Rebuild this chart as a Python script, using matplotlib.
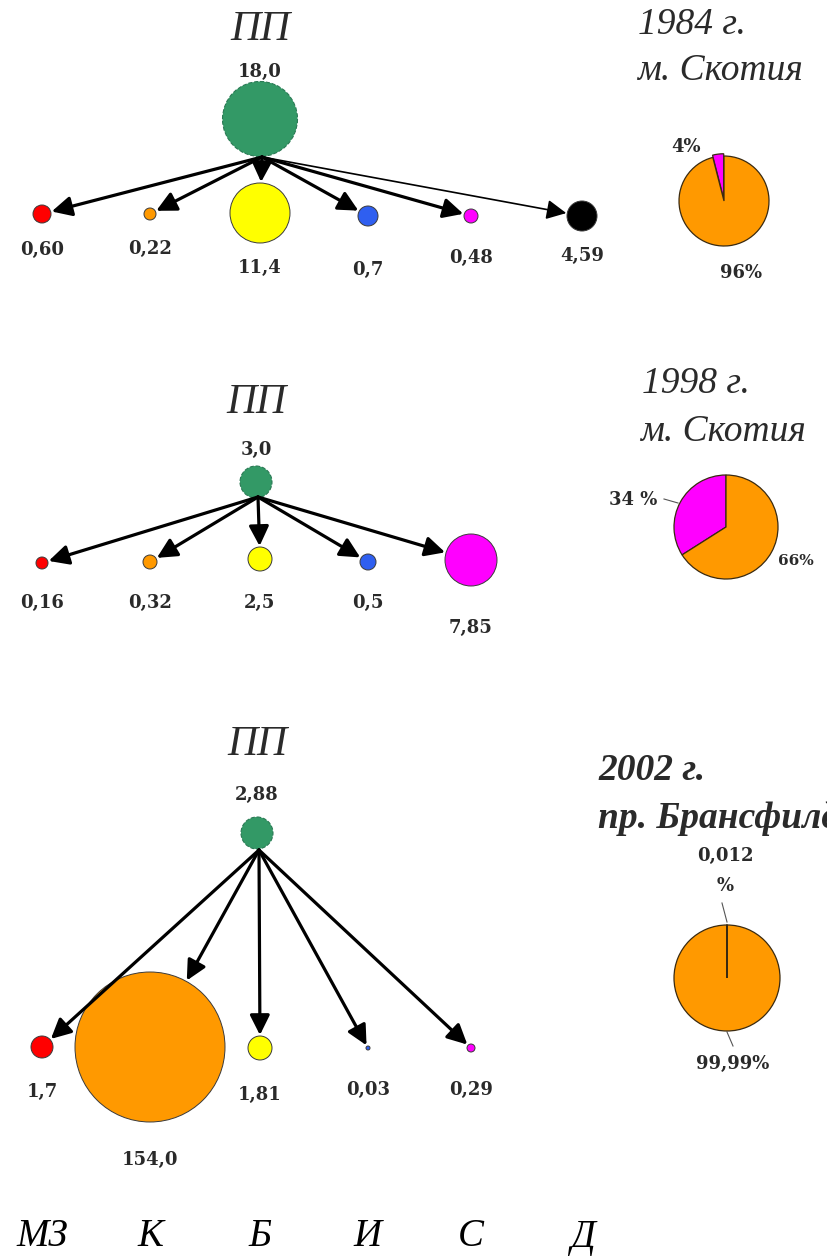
import matplotlib
matplotlib.use("Agg")
import matplotlib.pyplot as plt
from matplotlib.patches import Circle, Ellipse
import numpy as np

# ---------------- data ----------------
categories = ['МЗ', 'К', 'Б', 'И', 'С', 'Д']
hub_label = 'ПП'

pp_1984 = 18.0
values_1984 = [0.60, 0.22, 11.4, 0.7, 0.48, 4.59]
decimals_1984 = [2, 2, 1, 1, 2, 2]

pp_1998 = 3.0
values_1998 = [0.16, 0.32, 2.5, 0.5, 7.85]
decimals_1998 = [2, 2, 1, 1, 2]

pp_2002 = 2.88
values_2002 = [1.7, 154.0, 1.81, 0.03, 0.29]
decimals_2002 = [1, 1, 2, 2, 2]

pie_1984 = [4, 96]
pie_labels_1984 = ['4%', '96%']
pie_1998 = [34, 66]
pie_labels_1998 = ['34 %', '66%']
pie_2002 = [0.012, 99.988]
pie_labels_2002 = ['0,012\n%', '99,99%']

region_1984 = ['1984 г.', 'м. Скотия']
region_1998 = ['1998 г.', 'м. Скотия']
region_2002 = ['2002 г.', 'пр. Брансфилд']

# ---------------- styles / layout ----------------
W, H = 828, 1256
cat_colors = ['#ff0000', '#ff9900', '#ffff00', '#2f5ff0', '#ff00ff', '#000000']
hub_color = '#339966'
pie_colors = ['#ff00ff', '#ff9900']
txt_color = '#2a2a2a'
serif = ['Liberation Serif', 'DejaVu Serif']
num_font = ['DejaVu Serif']

col_x = [42, 150, 260, 368, 471, 582]

panels = [
    dict(pp=pp_1984, pp_dec=1, vals=values_1984, dec=decimals_1984,
         hub=(260, 119), hub_wh=(75, 75), hub_lab_y=72, title_y=30,
         origin=(262, 157), row_y=[214, 214, 213, 216, 216, 216],
         radii=[9, 6, 30, 10, 7, 15], lab_y=[250, 249, 268, 270, 258, 256],
         lw=[2.3, 2.3, 2.3, 2.3, 2.3, 1.2],
         pie=pie_1984, pie_lab=pie_labels_1984, pie_c=(724, 201), pie_r=45,
         pie_explode=[0.05, 0],
         pie_lab_pos=[(686, 147), (741, 273)], pie_lab_size=[13, 13], leaders=[],
         region=region_1984, reg_pos=[(638, 25), (637, 71)], reg_bold=False),
    dict(pp=pp_1998, pp_dec=1, vals=values_1998, dec=decimals_1998,
         hub=(256, 482), hub_wh=(32, 32), hub_lab_y=450, title_y=403,
         origin=(258, 497), row_y=[563, 562, 559, 562, 560],
         radii=[6, 7, 12, 8, 26], lab_y=[603, 603, 603, 603, 628],
         lw=[2.3] * 5,
         pie=pie_1998, pie_lab=pie_labels_1998, pie_c=(726, 527), pie_r=52,
         pie_explode=[0, 0],
         pie_lab_pos=[(633, 500), (796, 561)], pie_lab_size=[13, 11],
         leaders=[((664, 499), (678, 503))],
         region=region_1998, reg_pos=[(642, 384), (640, 432)], reg_bold=False),
    dict(pp=pp_2002, pp_dec=2, vals=values_2002, dec=decimals_2002,
         hub=(257, 833), hub_wh=(32, 32), hub_lab_y=795, title_y=745,
         origin=(259, 850), row_y=[1047, 1047, 1048, 1048, 1048],
         radii=[11, 75, 12, 2, 4], lab_y=[1092, 1160, 1095, 1090, 1090],
         lw=[2.3] * 5,
         pie=pie_2002, pie_lab=pie_labels_2002, pie_c=(727, 978), pie_r=53,
         pie_explode=[0, 0],
         pie_lab_pos=[(725, 856), (733, 1064)], pie_lab_size=[13, 13],
         leaders=[((722, 903), (727, 922)), ((727, 1032), (733, 1046))],
         region=region_2002, reg_pos=[(598, 771), (598, 818)], reg_bold=True),
]


def fmt(v, d):
    return f"{v:.{d}f}".replace('.', ',')


fig = plt.figure(figsize=(W / 100, H / 100), dpi=100)
ax = fig.add_axes([0, 0, 1, 1])
ax.set_xlim(0, W)
ax.set_ylim(H, 0)
ax.axis('off')

for p in panels:
    # title ПП
    ax.text(p['hub'][0], p['title_y'], hub_label, family=serif, style='italic',
            fontsize=30, color=txt_color, ha='center', va='center')
    # hub
    hx, hy = p['hub']
    ax.add_patch(Ellipse((hx, hy), p['hub_wh'][0], p['hub_wh'][1],
                         facecolor=hub_color, edgecolor='#2b7a55', lw=0.8,
                         linestyle='--', zorder=2))
    ax.text(hx, p['hub_lab_y'], fmt(p['pp'], p['pp_dec']),
            family=num_font, weight='bold', fontsize=13, color=txt_color,
            ha='center', va='center')
    ox, oy = p['origin']
    for i, v in enumerate(p['vals']):
        cx, cy, r = col_x[i], p['row_y'][i], p['radii'][i]
        ax.add_patch(Circle((cx, cy), r, facecolor=cat_colors[i],
                            edgecolor='#3a3a3a', lw=0.7, zorder=2))
        dx, dy = cx - ox, cy - oy
        L = np.hypot(dx, dy)
        tip = (cx - dx / L * (r + 1), cy - dy / L * (r + 1))
        ax.annotate('', xy=tip, xytext=(ox, oy),
                    arrowprops=dict(arrowstyle='-|>,head_length=0.6,head_width=0.3',
                                    lw=p['lw'][i], color='black',
                                    shrinkA=0, shrinkB=0, mutation_scale=20),
                    zorder=4)
        ax.text(cx, p['lab_y'][i], fmt(v, p['dec'][i]), family=num_font,
                weight='bold', fontsize=13, color=txt_color,
                ha='center', va='center')
    # region text
    for s, (x, y) in zip(p['region'], p['reg_pos']):
        ax.text(x, y, s, family=serif, style='italic',
                weight='bold' if p['reg_bold'] else 'normal',
                fontsize=27, color=txt_color, ha='left', va='center')
    # pie
    pcx, pcy = p['pie_c']
    pr = p['pie_r'] * 1.15
    pax = fig.add_axes([(pcx - pr) / W, 1 - (pcy + pr) / H, 2 * pr / W, 2 * pr / H])
    pax.pie(p['pie'], colors=pie_colors, startangle=90, counterclock=True,
            explode=p['pie_explode'],
            wedgeprops=dict(edgecolor='#3a2a10', linewidth=0.9))
    pax.set_xlim(-1.15, 1.15)
    pax.set_ylim(-1.15, 1.15)
    pax.set_aspect('equal')
    pax.axis('off')
    for s, (x, y), fs in zip(p['pie_lab'], p['pie_lab_pos'], p['pie_lab_size']):
        lines = s.split('\n')
        for k, line in enumerate(lines):
            ax.text(x, y + 30 * k, line, family=num_font, weight='bold', fontsize=fs,
                    color=txt_color, ha='center', va='center')
    for (a, b) in p['leaders']:
        ax.plot([a[0], b[0]], [a[1], b[1]], color='#555555', lw=0.8)

# bottom legend of category letters
for i, c in enumerate(categories):
    ax.text(col_x[i], 1237, c, family=serif, style='italic', fontsize=28,
            color='black', ha='center', va='center')

fig.savefig('out.png', dpi=100)
